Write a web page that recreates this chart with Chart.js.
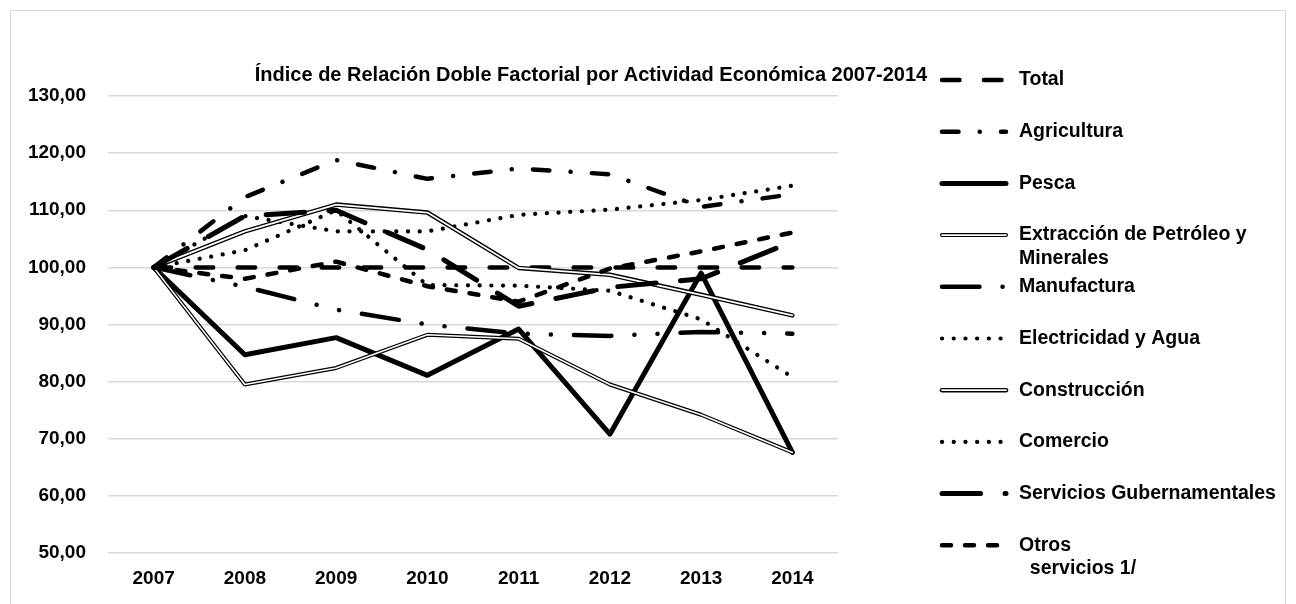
<!DOCTYPE html>
<html>
<head>
<meta charset="utf-8">
<script src="https://cdn.jsdelivr.net/npm/chart.js@4.4.0/dist/chart.umd.min.js"></script>
<style>
  html, body { margin: 0; background: #fff; }
  #marco { position: absolute; left: 10px; top: 10px; width: 1274px; height: 620px; border: 1px solid #d9d9d9; }
  canvas { position: absolute; left: 0; top: 0; }
</style>
</head>
<body>
<div id="marco"></div>
<canvas id="grafico" width="1296" height="604"></canvas>
<script>
// datos
const anios = ['2007', '2008', '2009', '2010', '2011', '2012', '2013', '2014'];
const total = [100, 100, 100, 100, 100, 100, 100, 100];
const agricultura = [100, 112.3, 118.8, 115.5, 117.3, 116.3, 110.6, 112.8];
const pesca = [100, 84.7, 87.7, 81.1, 89.2, 70.8, 99.0, 67.6];
const extraccion = [100, 79.5, 82.4, 88.2, 87.5, 79.5, 74.2, 67.6];
const manufactura = [100, 96.6, 92.6, 90.0, 88.4, 88.0, 88.7, 88.4];
const electricidad = [100, 109.0, 106.3, 106.3, 109.2, 110.1, 111.8, 114.3];
const construccion = [100, 106.3, 111.0, 109.6, 99.9, 98.7, 95.2, 91.6];
const comercio = [100, 103.0, 110.0, 96.9, 96.8, 95.9, 90.9, 80.8];
const servicios = [100, 109.0, 110.0, 103.1, 93.2, 96.5, 98.0, 104.5];
const otros = [100, 98.0, 101.0, 96.7, 94.0, 99.8, 102.8, 106.1];
const nombres = ['Total', 'Agricultura', 'Pesca', 'Extracción de Petróleo y\nMinerales', 'Manufactura',
  'Electricidad y Agua', 'Construcción', 'Comercio', 'Servicios Gubernamentales', 'Otros\n  servicios 1/'];
const yTicks = [50, 60, 70, 80, 90, 100, 110, 120, 130];

const fuente = "'Liberation Sans', Arial, sans-serif";
Chart.defaults.font.family = fuente;
Chart.defaults.color = '#000';

function serie(i, data, estilo) {
  return Object.assign({
    label: nombres[i],
    data: data,
    borderColor: '#000',
    backgroundColor: '#000',
    borderWidth: 4.5,
    borderCapStyle: 'round',
    borderJoinStyle: 'round',
    pointRadius: 0,
    tension: 0,
    fill: false,
    order: 20 - i
  }, estilo);
}

// linea doble (Extraccion, Construccion): se repinta el centro en blanco
const lineaDoble = {
  id: 'lineaDoble',
  afterDatasetDraw(chart, args) {
    const ds = chart.data.datasets[args.index];
    if (!ds.doble) return;
    const linea = args.meta.dataset;
    const orig = linea.options;
    linea.options = Object.assign({}, orig, { borderColor: '#fff', borderWidth: ds.doble, borderDash: [] });
    linea.draw(chart.ctx, chart.chartArea);
    linea.options = orig;
  }
};

// leyenda a la derecha, como en Excel
const leyenda = {
  id: 'leyenda',
  afterDraw(chart) {
    const ctx = chart.ctx;
    chart.data.datasets.forEach((ds, i) => {
      const y = 80 + i * 51.7;
      ctx.save();
      ctx.lineWidth = ds.borderWidth;
      ctx.strokeStyle = '#000';
      ctx.lineCap = ds.borderCapStyle;
      ctx.setLineDash(ds.borderDash || []);
      ctx.beginPath();
      ctx.moveTo(942, y);
      ctx.lineTo(1006, y);
      ctx.stroke();
      if (ds.doble) {
        ctx.setLineDash([]);
        ctx.lineWidth = ds.doble;
        ctx.strokeStyle = '#fff';
        ctx.beginPath();
        ctx.moveTo(942, y);
        ctx.lineTo(1006, y);
        ctx.stroke();
      }
      ctx.fillStyle = '#000';
      ctx.font = 'bold 19.5px ' + fuente;
      ctx.textBaseline = 'middle';
      ds.label.split('\n').forEach((t, k) => ctx.fillText(t, 1019, y + k * 23.5));
      ctx.restore();
    });
  }
};

new Chart(document.getElementById('grafico'), {
  type: 'line',
  data: {
    labels: anios,
    datasets: [
      serie(0, total, { borderDash: [17.5, 24.5] }),
      serie(1, agricultura, { borderDash: [16.5, 21.2, 0.1, 21.2] }),
      serie(2, pesca, { borderWidth: 5 }),
      serie(3, extraccion, { borderWidth: 4, doble: 1.6 }),
      serie(4, manufactura, { borderDash: [37.5, 23, 0.1, 23, 0.1, 23] }),
      serie(5, electricidad, { borderWidth: 4.2, borderDash: [0.1, 11.6] }),
      serie(6, construccion, { borderWidth: 4.5, doble: 1.8 }),
      serie(7, comercio, { borderWidth: 4.2, borderDash: [0.1, 11.6] }),
      serie(8, servicios, { borderWidth: 5, borderDash: [38.5, 24.5] }),
      serie(9, otros, { borderDash: [9, 14] })
    ]
  },
  options: {
    responsive: false,
    animation: false,
    layout: { padding: { left: 10, right: 124, top: 0, bottom: 0 } },
    plugins: {
      legend: { display: false },
      tooltip: { enabled: false },
      title: {
        display: true,
        text: 'Índice de Relación Doble Factorial por Actividad Económica 2007-2014',
        color: '#000',
        font: { size: 20, weight: 'bold' },
        padding: { top: 63, bottom: 9 }
      }
    },
    scales: {
      x: {
        offset: true,
        grid: { display: false, drawTicks: false },
        border: { display: false },
        ticks: { font: { size: 19, weight: 'bold' }, padding: 14, maxRotation: 0 },
        afterFit(s) { s.height = 51; }
      },
      y: {
        min: 50,
        max: 130,
        afterBuildTicks(s) { s.ticks = yTicks.map(v => ({ value: v })); },
        grid: { color: '#d9d9d9', lineWidth: 1.5, drawTicks: false },
        border: { display: false },
        ticks: {
          font: { size: 19, weight: 'bold' },
          padding: 22,
          callback: v => v.toFixed(2).replace('.', ',')
        },
        afterFit(s) { s.width = 98; }
      },
      espacio: {
        type: 'linear',
        position: 'right',
        display: true,
        grid: { display: false },
        border: { display: false },
        ticks: { display: false },
        afterFit(s) { s.width = 334; }
      }
    }
  },
  plugins: [lineaDoble, leyenda]
});
</script>
</body>
</html>
